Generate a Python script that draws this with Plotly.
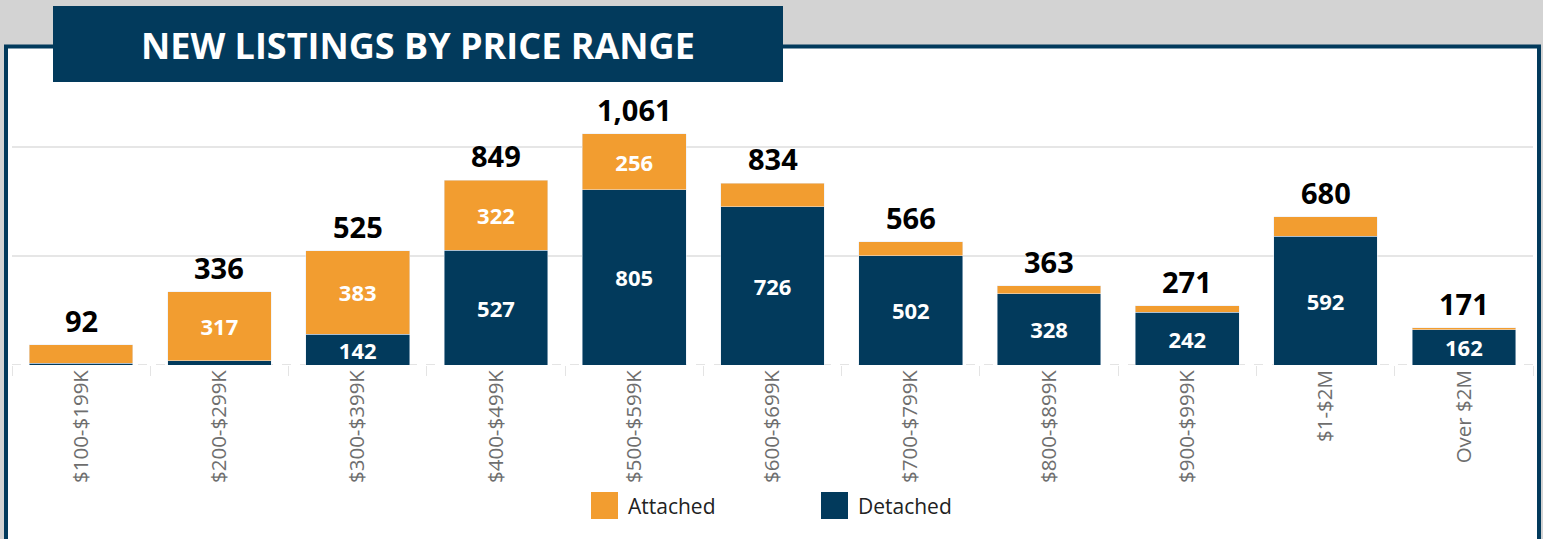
import plotly.graph_objects as go

# ---- data ----
categories = ["$100-$199K", "$200-$299K", "$300-$399K", "$400-$499K", "$500-$599K",
              "$600-$699K", "$700-$799K", "$800-$899K", "$900-$999K", "$1-$2M", "Over $2M"]
attached = [85, 317, 383, 322, 256, 108, 64, 35, 29, 88, 9]
detached = [7, 19, 142, 527, 805, 726, 502, 328, 242, 592, 162]
totals = [a + d for a, d in zip(attached, detached)]
series_names = ["Attached", "Detached"]
title_text = "NEW LISTINGS BY PRICE RANGE"

# ---- style ----
NAVY = "#023A5C"
ORANGE = "#F29D30"
FONT = "Open Sans"
W, H = 1543, 539
ML, MR, MT, MB = 12, 10, 95, 174
PW, PH = W - ML - MR, H - MT - MB
YMAX = 1240


def px(x):
    return (x - ML) / PW


def py(y):
    return (H - MB - y) / PH


def lbl(v):
    return f"{v:,}" if v >= 120 else ""


fig = go.Figure()
fig.add_trace(go.Bar(
    x=categories, y=detached, name=series_names[1], marker_color=NAVY,
    text=[lbl(v) for v in detached], textposition="inside", insidetextanchor="middle",
    textangle=0, textfont=dict(color="white", size=22, family=FONT, weight="bold"),
    showlegend=False, hoverinfo="skip",
))
fig.add_trace(go.Bar(
    x=categories, y=attached, name=series_names[0], marker_color=ORANGE,
    text=[lbl(v) for v in attached], textposition="inside", insidetextanchor="middle",
    textangle=0, textfont=dict(color="white", size=22, family=FONT, weight="bold"),
    showlegend=False, hoverinfo="skip",
))

annotations = []
for c, t in zip(categories, totals):
    annotations.append(dict(
        x=c, y=t, xref="x", yref="y", text=f"{t:,}", showarrow=False,
        yanchor="bottom", yshift=3,
        font=dict(size=29, color="black", family=FONT, weight="bold"),
    ))

# title
annotations.append(dict(
    x=px(418), y=py(46), xref="paper", yref="paper", text=title_text, showarrow=False,
    xanchor="center", yanchor="middle",
    font=dict(size=36, color="white", family=FONT, weight="bold"),
))

legend_items = [(series_names[0], ORANGE, 591), (series_names[1], NAVY, 821)]
shapes = [
    # white panel with navy border
    dict(type="rect", xref="paper", yref="paper", x0=px(6), x1=px(1539), y0=py(46.5), y1=py(600),
         fillcolor="white", line=dict(color=NAVY, width=4), layer="below"),
    # title banner
    dict(type="rect", xref="paper", yref="paper", x0=px(53), x1=px(783), y0=py(6), y1=py(82),
         fillcolor=NAVY, line=dict(width=0), layer="below"),
    # dashed baseline
    dict(type="line", xref="paper", yref="y", x0=0, x1=1, y0=0, y1=0,
         line=dict(color="#c8c8c8", width=1, dash="dash"), layer="below"),
]
for name, col, x0 in legend_items:
    shapes.append(dict(type="rect", xref="paper", yref="paper", x0=px(x0), x1=px(x0 + 27),
                       y0=py(492), y1=py(519), fillcolor=col, line=dict(width=0), layer="above"))
    annotations.append(dict(
        x=px(x0 + 35), y=py(506), xref="paper", yref="paper", text=name, showarrow=False,
        xanchor="left", yanchor="middle", font=dict(size=21, color="#222222", family=FONT),
    ))

fig.update_layout(
    width=W, height=H, margin=dict(l=ML, r=MR, t=MT, b=MB, pad=0),
    paper_bgcolor="#D3D3D3", plot_bgcolor="rgba(0,0,0,0)",
    barmode="stack", bargap=0.25,
    font=dict(family=FONT),
    showlegend=False,
    uniformtext=dict(minsize=22, mode="show"),
    annotations=annotations, shapes=shapes,
    xaxis=dict(tickangle=-90, tickfont=dict(size=20.5, color="#6e6e6e", family=FONT),
               ticks="outside", tickson="boundaries", ticklen=10, tickcolor="#e4e4e4",
               showgrid=False, showline=False, zeroline=False, fixedrange=True),
    yaxis=dict(range=[0, YMAX], tickvals=[500, 1000], showticklabels=False,
               gridcolor="#e6e6e6", gridwidth=2, zeroline=False, showline=False, fixedrange=True),
)

fig.write_html("out.html", config={"displayModeBar": False},
               post_script="document.body.style.margin='0';")
